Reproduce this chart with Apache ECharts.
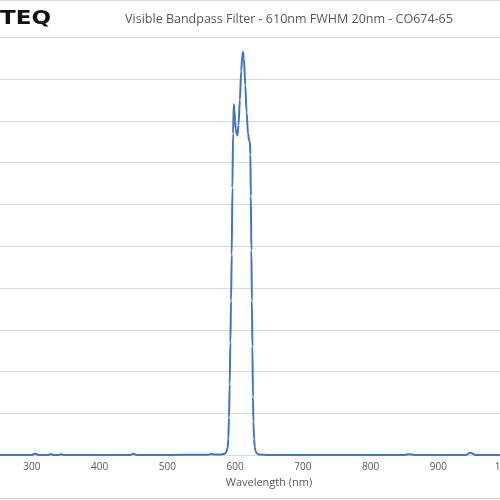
<!DOCTYPE html>
<html>
<head>
<meta charset="utf-8">
<script src="https://cdn.jsdelivr.net/npm/echarts@6/dist/echarts.min.js"></script>
<style>
  html, body { margin: 0; padding: 0; background: #fff; }
  #chart { width: 500px; height: 500px; }
</style>
</head>
<body>
<div id="chart"></div>
<script>
// wavelength (nm) and transmission (%)
const wavelength = [250, 280, 300, 305, 310, 325, 328, 332, 340, 343, 347, 400, 445, 450, 455, 500, 560, 565, 570, 580,
  585, 587, 589, 590, 591, 592, 593, 594, 595, 596, 597, 598, 599, 600, 601, 602, 603.5, 605, 607, 609,
  610.5, 611.5, 613, 615, 617, 619, 620.5, 621.8, 622.5, 623.2, 624, 624.8, 625.5, 626.3, 627, 628, 629, 630, 632, 635,
  650, 700, 800, 850, 857, 865, 940, 947, 955, 1000, 1050];
const transmission = [0.1, 0.1, 0.1, 0.4, 0.1, 0.1, 0.3, 0.1, 0.1, 0.25, 0.1, 0.1, 0.1, 0.35, 0.1, 0.1, 0.15, 0.3, 0.2, 0.2,
  0.4, 0.8, 1.8, 4, 9, 17, 27, 37, 48, 64, 77, 84, 82.5, 80, 78, 77, 76.5, 79, 85, 92,
  95.5, 96.5, 95, 88.5, 82, 77, 75.5, 75, 72, 62, 49, 37, 26, 14, 8, 4, 2, 1, 0.5, 0.2,
  0.1, 0.1, 0.1, 0.1, 0.25, 0.1, 0.1, 0.6, 0.1, 0.1, 0.1];
const xTicks = [200, 1100, 100]; // min, max, step
const chartTitle = 'Visible Bandpass Filter - 610nm FWHM 20nm - CO674-65';

const chart = echarts.init(document.getElementById('chart'));

chart.setOption({
  animation: false,
  grid: { left: -36, top: 37.3, width: 610, height: 418, containLabel: false, outerBoundsMode: 'none' },
  xAxis: {
    type: 'value',
    min: xTicks[0],
    max: xTicks[1],
    interval: xTicks[2],
    name: 'Wavelength (nm)',
    nameLocation: 'middle',
    nameGap: 20,
    nameTextStyle: { color: '#595959', fontSize: 11, fontFamily: 'Open Sans' },
    axisLine: { show: true, lineStyle: { color: '#d9d9d9' } },
    axisTick: { show: false },
    axisLabel: { color: '#595959', fontSize: 10, margin: 7, fontFamily: 'Open Sans', formatter: v => String(v) },
    splitLine: { show: false }
  },
  yAxis: {
    type: 'value',
    min: 0,
    max: 100,
    interval: 10,
    axisLine: { show: false },
    axisTick: { show: false },
    axisLabel: { show: false },
    splitLine: { lineStyle: { color: '#d9d9d9', width: 1 } }
  },
  series: [{
    type: 'line',
    data: wavelength.map((w, i) => [w, transmission[i]]),
    showSymbol: false,
    smooth: 0.3,
    smoothMonotone: 'x',
    lineStyle: { color: '#4472c4', width: 2 }
  }],
  graphic: [
    { type: 'line', shape: { x1: 0, y1: 0.5, x2: 500, y2: 0.5 }, style: { stroke: '#d9d9d9', lineWidth: 1 } },
    { type: 'line', shape: { x1: 0, y1: 498.5, x2: 500, y2: 498.5 }, style: { stroke: '#d9d9d9', lineWidth: 1 } },
    { type: 'text', x: 0, y: 9, scaleX: 1.15, style: { text: 'TEQ', fill: '#111', font: 'bold 20px "DejaVu Sans"' } },
    { type: 'text', x: 289, y: 19, style: { text: chartTitle, fill: '#595959', font: '12.5px "Open Sans"', textAlign: 'center', textVerticalAlign: 'middle' } }
  ]
});
</script>
</body>
</html>
